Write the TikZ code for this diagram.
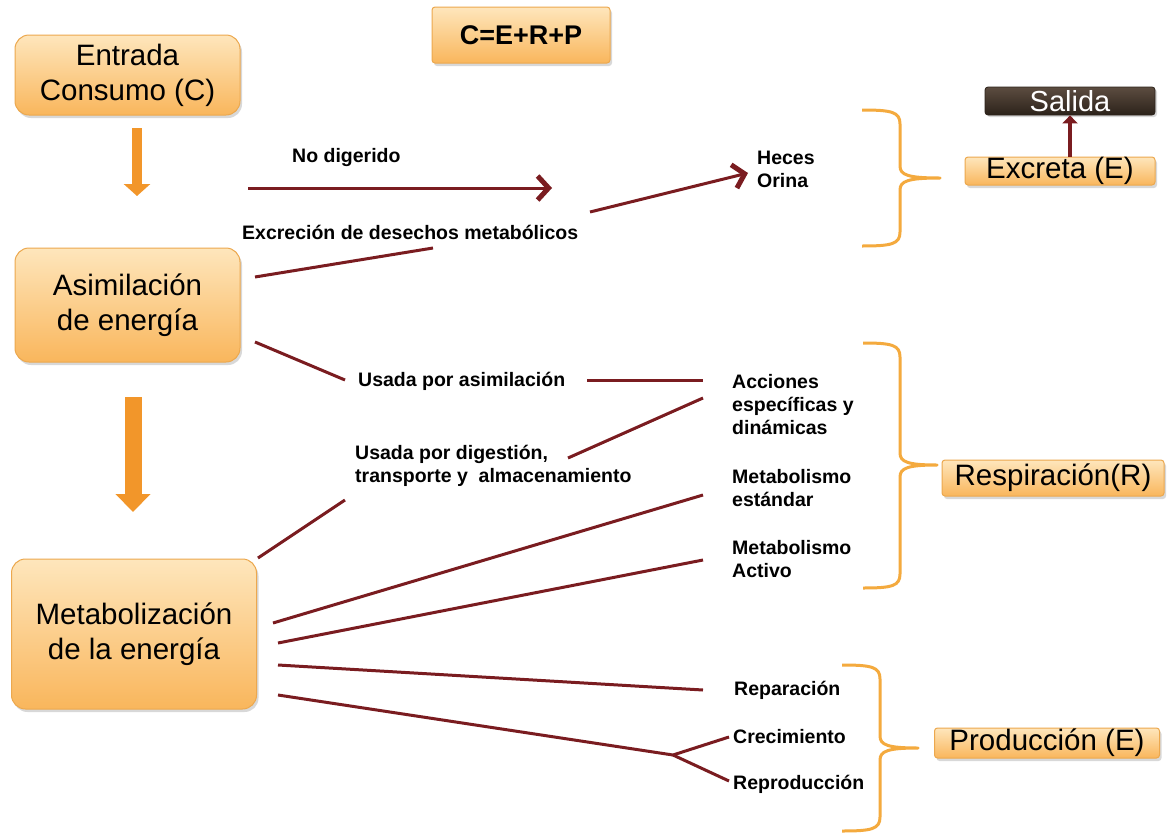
\documentclass[tikz,border=0pt]{standalone}
\usepackage{fontspec}
\setmainfont{Liberation Sans}
\usetikzlibrary{arrows.meta,shadows,calc}
\definecolor{dred}{RGB}{122,28,32}
\definecolor{obr}{RGB}{244,170,62}
\definecolor{olight}{RGB}{254,230,188}
\definecolor{odark}{RGB}{249,182,92}
\definecolor{oedge}{RGB}{236,168,78}
\definecolor{oarrow}{RGB}{242,150,42}
\definecolor{brtop}{RGB}{92,76,64}
\definecolor{brbot}{RGB}{44,34,26}
\newcommand\mybrace[6]{%
  \draw[bracestyle] (#1,#4) .. controls ({#2-8},#4) and (#2,{#4+2}) .. (#2,{#4+14})
    -- (#2,{#5-12}) .. controls (#2,{#5-3}) and ({#2+8},#5) .. (#3,#5)
    .. controls ({#2+8},#5) and (#2,{#5+3}) .. (#2,{#5+12})
    -- (#2,{#6-14}) .. controls (#2,{#6-2}) and ({#2-8},#6) .. (#1,#6);}
\tikzset{
  obox/.style={draw=oedge, line width=1pt, rounded corners=14pt, top color=olight, bottom color=odark,
    drop shadow={shadow xshift=2pt, shadow yshift=-3pt, opacity=0.3}, align=center,
    font=\fontsize{29.5}{35}\selectfont, inner sep=0pt},
  sbox/.style={obox, rounded corners=3pt},
  lbl/.style={anchor=west, align=left, inner sep=0pt, font=\bfseries\fontsize{19.5}{23}\selectfont},
  redline/.style={draw=dred, line width=3pt},
  redarrow/.style={redline, -{Straight Barb[length=11pt,width=24pt,line width=5pt]}},
  bracestyle/.style={draw=obr, line width=3pt, line join=round}
}
\begin{document}
\begin{tikzpicture}[x=1pt,y=-1pt]
\useasboundingbox (0,0) rectangle (1167,833);
\fill[white] (0,0) rectangle (1167,833);

% main boxes
\node[obox, minimum width=225pt, minimum height=80pt] (entrada) at (127.5,75) {Entrada\\Consumo (C)};
\node[obox, minimum width=225pt, minimum height=114pt] (asim) at (127.5,305) {Asimilación\\de energía};
\node[obox, minimum width=245pt, minimum height=150pt] (metab) at (134,634) {Metabolización\\de la energía};
\node[sbox, minimum width=178pt, minimum height=56pt, font=\bfseries\fontsize{27}{32}\selectfont] (cerp) at (521,35) {C=E+R+P};

% right boxes
\node[draw=brbot, line width=0.8pt, rounded corners=3pt, top color=brtop, bottom color=brbot, text=white,
  minimum width=170pt, minimum height=28pt, inner sep=0pt, font=\fontsize{29}{32}\selectfont,
  drop shadow={shadow xshift=2pt, shadow yshift=-2pt, opacity=0.3}] (salida) at (1070,101) {Salida};
\node[sbox, minimum width=190pt, minimum height=28pt] (excreta) at (1060,171) {Excreta (E)};
\node[sbox, minimum width=222pt, minimum height=36pt] (resp) at (1053,478) {Respiración(R)};
\node[sbox, minimum width=225pt, minimum height=30pt] (prod) at (1047,743) {Producción (E)};

% orange block arrows between the main boxes
\coordinate (a1a) at (137,128);
\coordinate (a1b) at (137,196);
\draw[draw=oarrow, line width=10pt, -{Triangle[length=12pt,width=26pt]}] (a1a) -- (a1b);
\coordinate (a2a) at (133,397);
\coordinate (a2b) at (133,512);
\draw[draw=oarrow, line width=17pt, -{Triangle[length=18pt,width=34pt]}] (a2a) -- (a2b);

% labels
\node[lbl] (nodig) at (292,157) {No digerido};
\node[lbl] (heces) at (757,169) {Heces\\Orina};
\node[lbl] (excr) at (242,232) {Excreción de desechos metabólicos};
\node[lbl] (usasim) at (358,381) {Usada por asimilación};
\node[lbl] (usdig) at (355,466) {Usada por digestión,\\transporte y\ \ almacenamiento};
\node[lbl] (acc) at (732,405) {Acciones\\específicas y\\dinámicas};
\node[lbl] (mest) at (732,488) {Metabolismo\\estándar};
\node[lbl] (mact) at (732,559) {Metabolismo\\Activo};
\node[lbl] (repar) at (734,690) {Reparación};
\node[lbl] (crec) at (733,737) {Crecimiento};
\node[lbl] (repro) at (733,784) {Reproducción};

% connector end points
\coordinate (p1) at (248,188);  \coordinate (p2) at (552,188);
\coordinate (p3) at (590,212);  \coordinate (p4) at (748,173);
\coordinate (p5) at (255,277);  \coordinate (p6) at (433,248);
\coordinate (p7) at (255,342);  \coordinate (p8) at (345,380);
\coordinate (p9) at (587,380);  \coordinate (p10) at (703,380);
\coordinate (p11) at (568,458); \coordinate (p12) at (703,398);
\coordinate (p13) at (258,558); \coordinate (p14) at (345,500);
\coordinate (p15) at (273,623); \coordinate (p16) at (703,495);
\coordinate (p17) at (278,643); \coordinate (p18) at (703,560);
\coordinate (p19) at (278,665); \coordinate (p20) at (703,690);
\coordinate (p21) at (278,695); \coordinate (fork) at (673,755);
\coordinate (p22) at (729,737); \coordinate (p23) at (729,781);

\draw[redarrow] (p1) -- (p2);
\draw[redarrow] (p3) -- (p4);
\draw[redline] (p5) -- (p6);
\draw[redline] (p7) -- (p8);
\draw[redline] (p9) -- (p10);
\draw[redline] (p11) -- (p12);
\draw[redline] (p13) -- (p14);
\draw[redline] (p15) -- (p16);
\draw[redline] (p17) -- (p18);
\draw[redline] (p19) -- (p20);
\draw[redline, line join=round] (p21) -- (fork) -- (p22);
\draw[redline] (fork) -- (p23);

% Salida arrow
\draw[draw=dred, line width=3.5pt, -{Triangle[length=8pt,width=15pt]}] (excreta.north -| salida.south) -- (salida.south);

% braces
\mybrace{862}{900}{940}{110}{178}{246}
\mybrace{863}{900}{937}{343}{465}{588}
\mybrace{842}{880}{918}{665}{748}{831}
\end{tikzpicture}
\end{document}
